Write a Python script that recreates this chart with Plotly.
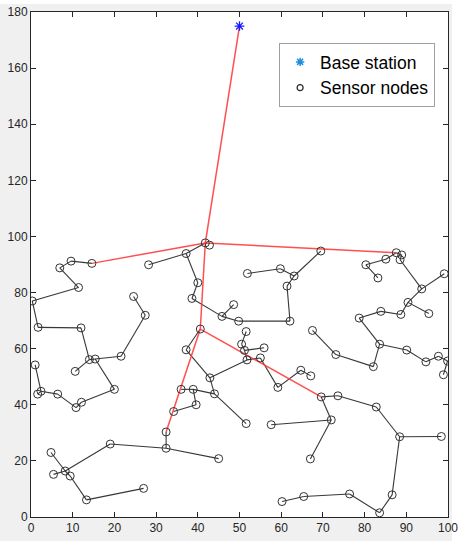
import plotly.graph_objects as go

# Base station
base_x = [50]
base_y = [175]

# Sensor node coordinates (index = position in list)
node_x = [0.3, 1.7, 12.0, 14.0, 15.4, 21.6, 27.4, 24.6, 10.6, 11.4,
          6.9, 9.6, 14.6, 1.0, 2.4, 1.6, 6.4, 10.8, 12.1, 20.0,
          4.8, 5.4, 8.2, 9.4, 13.3, 27.0, 19.0, 32.4, 32.4, 45.0,
          34.2, 36.0, 38.9, 39.6, 44.0, 51.6, 42.9, 37.2, 40.6, 41.8,
          42.8, 37.2, 28.2, 40.0, 38.6, 45.8, 48.6, 49.8, 62.1, 61.4,
          63.1, 59.8, 51.9, 69.5, 51.6, 50.5, 51.2, 55.9, 51.8, 55.0,
          59.2, 64.7, 67.1, 69.6, 73.6, 82.8, 88.4, 98.4, 86.6, 83.6,
          76.4, 65.4, 60.2, 72.0, 67.0, 57.6, 67.5, 73.1, 82.1, 83.6,
          78.7, 83.9, 88.7, 90.4, 95.4, 93.7, 99.1, 88.5, 87.6, 88.9,
          85.1, 80.3, 83.2, 90.1, 94.7, 97.7, 99.9, 98.9]
node_y = [77.0, 67.6, 67.4, 56.1, 56.3, 57.3, 71.9, 78.6, 51.9, 81.8,
          88.8, 91.2, 90.4, 54.2, 44.8, 43.8, 43.8, 39.0, 40.9, 45.5,
          23.0, 15.2, 16.4, 14.6, 6.1, 10.2, 26.0, 24.5, 30.3, 20.8,
          37.6, 45.5, 45.5, 40.0, 43.9, 33.3, 49.6, 59.6, 67.0, 97.7,
          96.9, 93.9, 89.9, 83.5, 77.9, 71.5, 75.7, 69.8, 69.8, 82.3,
          85.9, 88.5, 86.8, 94.8, 66.1, 61.6, 59.4, 60.3, 56.0, 56.7,
          46.2, 52.3, 50.3, 42.8, 43.2, 39.2, 28.6, 28.7, 7.9, 1.5,
          8.2, 7.3, 5.5, 34.6, 20.7, 32.9, 66.5, 57.9, 53.6, 61.6,
          70.9, 73.3, 72.2, 76.5, 72.5, 81.3, 86.7, 91.7, 94.2, 93.4,
          91.9, 89.9, 85.2, 59.5, 55.3, 57.3, 55.6, 50.7]

# Black links between sensor nodes (1-based indices)
black_links = [(1, 2), (1, 10), (10, 11), (11, 12), (12, 13), (2, 3), (3, 4), (4, 5), (4, 9),
               (5, 6), (5, 20), (6, 7), (7, 8), (14, 15), (15, 16), (15, 17), (17, 18), (18, 19),
               (19, 20), (21, 23), (22, 23), (23, 24), (23, 27), (24, 25), (25, 26), (27, 28),
               (28, 29), (28, 30), (32, 33), (33, 34), (34, 31), (33, 35), (35, 37), (35, 36),
               (37, 59), (37, 38), (38, 39), (40, 42), (42, 43), (42, 44), (44, 45), (45, 46),
               (46, 47), (46, 48), (48, 49), (49, 50), (50, 51), (51, 52), (52, 53), (51, 54),
               (55, 56), (56, 57), (57, 58), (57, 59), (59, 60), (60, 61), (61, 62), (62, 63),
               (64, 65), (65, 66), (66, 67), (67, 68), (67, 69), (69, 70), (70, 71), (71, 72),
               (72, 73), (64, 74), (74, 75), (74, 76), (77, 78), (78, 79), (79, 80), (80, 81),
               (81, 82), (82, 83), (83, 84), (84, 85), (84, 86), (86, 87), (86, 88), (88, 90),
               (89, 90), (89, 91), (91, 92), (92, 93), (80, 94), (94, 95), (95, 96), (96, 97),
               (97, 98)]

# Red backbone links (0 = base station)
red_links = [(0, 40), (40, 13), (40, 89), (40, 39), (39, 29), (39, 64)]


def pt(i):
    if i == 0:
        return base_x[0], base_y[0]
    return node_x[i - 1], node_y[i - 1]


def seg(links):
    xs, ys = [], []
    for a, b in links:
        xa, ya = pt(a)
        xb, yb = pt(b)
        xs += [xa, xb, None]
        ys += [ya, yb, None]
    return xs, ys


bx, by = seg(black_links)
rx, ry = seg(red_links)

fig = go.Figure()
fig.add_trace(go.Scatter(x=bx, y=by, mode="lines", line=dict(color="rgba(20,20,20,0.85)", width=1.1),
                         showlegend=False, hoverinfo="skip"))
fig.add_trace(go.Scatter(x=rx, y=ry, mode="lines", line=dict(color="rgba(255,60,60,0.9)", width=1.5),
                         showlegend=False, hoverinfo="skip"))
fig.add_trace(go.Scatter(x=base_x, y=base_y, mode="markers",
                         marker=dict(symbol="asterisk-open", size=8, color="#1a1aff",
                                     line=dict(color="#1a1aff", width=1.3)),
                         showlegend=False))
fig.add_trace(go.Scatter(x=node_x, y=node_y, mode="markers",
                         marker=dict(symbol="circle-open", size=8, color="#333333",
                                     line=dict(color="#333333", width=1)),
                         showlegend=False))
# legend entries
fig.add_trace(go.Scatter(x=[None], y=[None], mode="markers", name="Base station",
                         marker=dict(symbol="asterisk-open", size=7, color="#1f8ee0",
                                     line=dict(color="#1f8ee0", width=1.5))))
fig.add_trace(go.Scatter(x=[None], y=[None], mode="markers", name="Sensor nodes",
                         marker=dict(symbol="circle-open", size=6, color="#222222",
                                     line=dict(color="#222222", width=1.2))))

axis_common = dict(showgrid=False, zeroline=False, showline=True, linecolor="#262626", linewidth=1,
                   mirror="ticks", ticks="inside", ticklen=5, tickcolor="#262626", automargin=False,
                   tickfont=dict(family="Liberation Sans, Arial", size=12, color="#262626"))

fig.update_layout(
    width=462, height=541,
    margin=dict(l=31, r=14, t=12, b=24),
    paper_bgcolor="#f0f0f0",
    plot_bgcolor="white",
    xaxis=dict(range=[0, 100], dtick=10, **axis_common),
    yaxis=dict(range=[0, 180], dtick=20, **axis_common),
    legend=dict(x=0.595, y=0.9386, xanchor="left", yanchor="top",
                bgcolor="white", bordercolor="#a0a0a0", borderwidth=1,
                font=dict(family="Liberation Sans, Arial", size=17.5, color="#000000"),
                itemwidth=30, tracegroupgap=0),
    shapes=[
        dict(type="rect", xref="paper", yref="paper", x0=-0.2, x1=1.2, y0=1.0158, y1=1.2,
             fillcolor="white", line=dict(width=0), layer="below"),
        dict(type="rect", xref="paper", yref="paper", x0=1.0096, x1=1.2, y0=-0.2, y1=1.2,
             fillcolor="white", line=dict(width=0), layer="below"),
    ],
)

fig.write_html("out.html", config={"displayModeBar": False},
               post_script="document.body.style.margin='0';document.body.style.overflow='hidden';")
